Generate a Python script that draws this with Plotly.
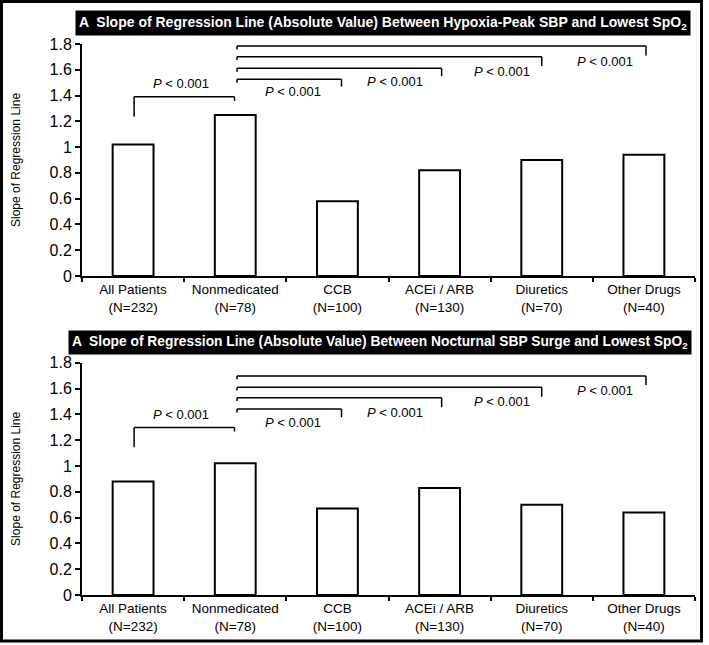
import plotly.graph_objects as go

# ---------------- data ----------------
categories = ["All Patients", "Nonmedicated", "CCB", "ACEi / ARB", "Diuretics", "Other Drugs"]
n_counts = [232, 78, 100, 130, 70, 40]
slope_hypoxia_peak = [1.02, 1.25, 0.58, 0.82, 0.90, 0.94]
slope_nocturnal_surge = [0.88, 1.02, 0.67, 0.83, 0.70, 0.64]

title_top = "A  Slope of Regression Line (Absolute Value) Between Hypoxia-Peak SBP and Lowest SpO<sub>2</sub>"
title_bottom = "A  Slope of Regression Line (Absolute Value) Between Nocturnal SBP Surge and Lowest SpO<sub>2</sub>"
y_title = "Slope of Regression Line"
y_ticks = [0, 0.2, 0.4, 0.6, 0.8, 1, 1.2, 1.4, 1.6, 1.8]
p_text = "<i>P</i> &lt; 0.001"

# comparisons (category index pairs)
comparisons = [(0, 1), (1, 2), (1, 3), (1, 4), (1, 5)]
# bracket bar heights (data units)
bracket_top_panel = [1.39, 1.526, 1.611, 1.701, 1.784]
bracket_bottom_panel = [1.297, 1.442, 1.529, 1.61, 1.697]
# leg ends (data units): left, right
legs_top_panel = [(1.236, 1.358), (1.50, 1.469), (1.585, 1.55), (1.675, 1.63), (1.758, 1.71)]
legs_bottom_panel = [(1.145, 1.266), (1.415, 1.378), (1.503, 1.455), (1.584, 1.537), (1.671, 1.628)]
# p-label positions
p_label_x = [0.47, 1.57, 2.56, 3.61, 4.62]
p_label_y_top = [1.49, 1.435, 1.507, 1.59, 1.668]
p_label_y_bottom = [1.395, 1.336, 1.413, 1.498, 1.584]

# ---------------- figure ----------------
FONT = "Liberation Sans, Arial, sans-serif"
tick_labels = [f"{c}<br>(N={n})" for c, n in zip(categories, n_counts)]

fig = go.Figure()
for vals, xa, ya in [(slope_hypoxia_peak, "x", "y"), (slope_nocturnal_surge, "x2", "y2")]:
    fig.add_trace(go.Bar(
        x=tick_labels, y=vals, xaxis=xa, yaxis=ya, width=0.4,
        marker=dict(color="white", line=dict(color="black", width=2)),
        showlegend=False, hoverinfo="x+y",
    ))

line_style = dict(color="black", width=1.5)
for xa, ya, heights, legs, label_y in [
    ("x", "y", bracket_top_panel, legs_top_panel, p_label_y_top),
    ("x2", "y2", bracket_bottom_panel, legs_bottom_panel, p_label_y_bottom),
]:
    for k, ((a, b), h, (lb, rb), lx, ly) in enumerate(zip(comparisons, heights, legs, p_label_x, label_y)):
        xl = a + (0.01 if a == 0 else 0.017)
        xr = b + (-0.007 if k == 0 else (0.04 if b == 2 else 0.02 if b in (3, 5) else 0.0))
        for x0, y0, x1, y1 in [(xl, h, xr, h), (xl, lb, xl, h), (xr, rb, xr, h)]:
            fig.add_shape(type="line", xref=xa, yref=ya, x0=x0, y0=y0, x1=x1, y1=y1, line=line_style)
        fig.add_annotation(xref=xa, yref=ya, x=lx, y=ly, text=p_text, showarrow=False,
                           xanchor="center", yanchor="middle",
                           font=dict(family=FONT, size=13, color="black"))

# title boxes
for txt, xc, yc, fs in [(title_top, 0.491, 1.039, 14), (title_bottom, 0.486, 0.459, 13.8)]:
    fig.add_annotation(xref="paper", yref="paper", x=xc, y=yc, text=f"<b>{txt}</b>",
                       showarrow=False, bgcolor="black", borderpad=3,
                       xanchor="center", yanchor="middle",
                       font=dict(family=FONT, size=fs, color="white"))

# outer frame
fig.add_shape(type="rect", xref="paper", yref="paper", x0=-0.1313, x1=1.0106, y0=-0.0835, y1=1.077,
              line=dict(color="black", width=3), fillcolor="rgba(0,0,0,0)")

xaxis_common = dict(type="category", tickson="boundaries", ticks="outside", ticklen=4,
                    tickcolor="black", tickwidth=1.5, showline=True, linecolor="black", linewidth=2,
                    showgrid=False, tickfont=dict(family=FONT, size=13.5, color="black"),
                    range=[-0.5, 5.5], fixedrange=True)
yaxis_common = dict(range=[0, 1.8], tickvals=y_ticks, ticktext=[f"{v:g}" for v in y_ticks],
                    ticks="outside", ticklen=5, tickcolor="black", tickwidth=1.5,
                    showline=True, linecolor="black", linewidth=2, showgrid=False, zeroline=False,
                    tickfont=dict(family=FONT, size=16, color="black"),
                    title=dict(text=y_title, font=dict(family=FONT, size=12, color="black"), standoff=26))

fig.update_layout(
    width=709, height=645,
    margin=dict(l=82, r=14, t=44, b=50),
    paper_bgcolor="white", plot_bgcolor="white",
    xaxis=dict(domain=[0, 1], anchor="y", **xaxis_common),
    yaxis=dict(domain=[0.579, 1.0], anchor="x", **yaxis_common),
    xaxis2=dict(domain=[0, 1], anchor="y2", **xaxis_common),
    yaxis2=dict(domain=[0.0, 0.4216], anchor="x2", **yaxis_common),
    bargap=0.6,
)

fig.write_html("out.html", config={"displayModeBar": False},
               post_script="document.body.style.margin='0';document.body.style.overflow='hidden';")
